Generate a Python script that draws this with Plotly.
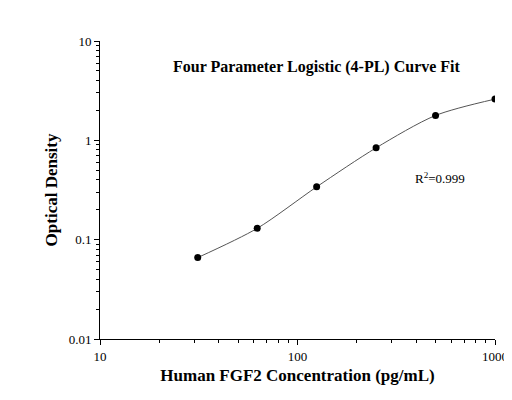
import plotly.graph_objects as go

conc = [31.25, 62.5, 125, 250, 500, 1000]
od = [0.066, 0.13, 0.34, 0.84, 1.78, 2.6]
title = "Four Parameter Logistic (4-PL) Curve Fit"
xlabel = "Human FGF2 Concentration (pg/mL)"
ylabel = "Optical Density"

F = "Liberation Serif"
tf = dict(family=F, size=13, color="black")
fig = go.Figure()
fig.add_trace(go.Scatter(x=conc, y=od, mode="lines", line=dict(color="#555", width=1, shape="spline", smoothing=0.8)))
fig.add_trace(go.Scatter(x=conc, y=od, mode="markers", marker=dict(color="black", size=7)))
def ax(rng, label):
    return dict(type="log", range=rng, dtick=1, showgrid=False, zeroline=False, showline=True,
                linecolor="black", mirror=False, ticks="outside", ticklen=5, tickcolor="black",
                tickfont=tf, minor=dict(ticks="outside", ticklen=3, tickcolor="black", dtick="D1"),
                title=dict(text="<b>" + label + "</b>", font=dict(family=F, size=17, color="black"), standoff=6))
fig.update_layout(width=512, height=400, margin=dict(l=92, r=23, t=33, b=69),
                  plot_bgcolor="white", paper_bgcolor="white", showlegend=False,
                  xaxis=ax([1, 3], xlabel), yaxis=ax([-2, 1], ylabel))
fig.add_annotation(text="<b>" + title + "</b>", x=0.55, y=0.95, xref="paper", yref="paper",
                   showarrow=False, font=dict(family=F, size=16, color="black"))
fig.add_annotation(text="R<sup>2</sup>=0.999", x=0.93, y=0.54, xref="paper", yref="paper",
                   showarrow=False, font=dict(family=F, size=13, color="black"))
fig.write_html("out.html")
